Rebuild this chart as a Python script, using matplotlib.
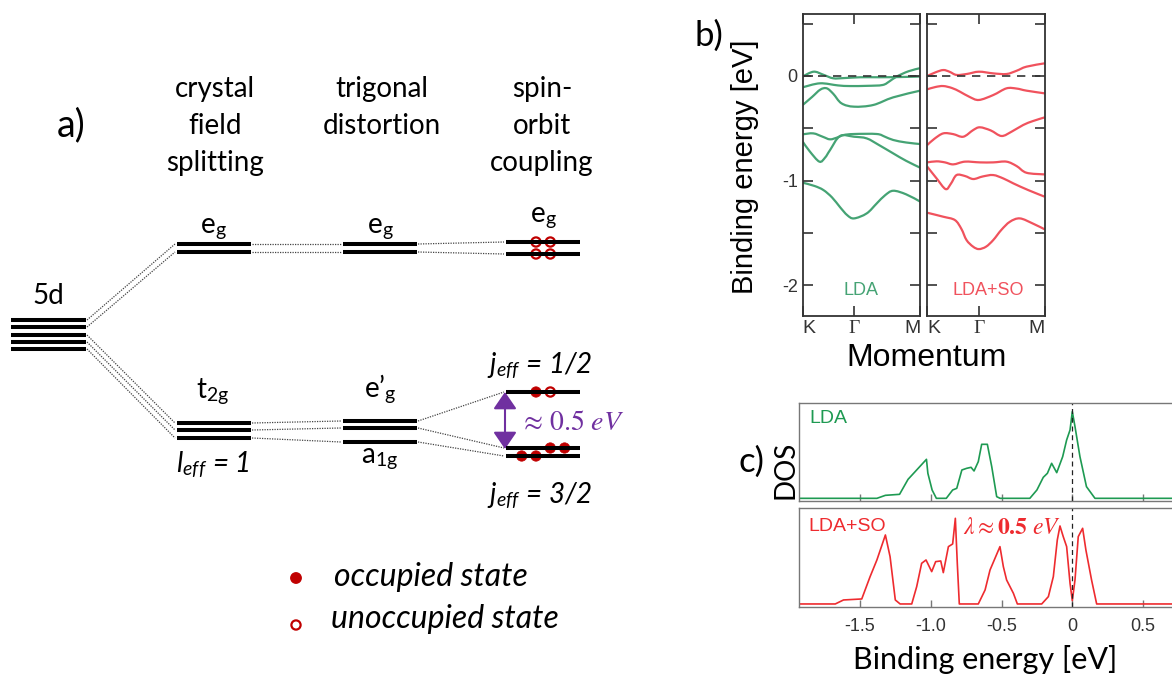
import numpy as np
import matplotlib
matplotlib.use('Agg')
import matplotlib.pyplot as plt
from matplotlib.patches import Circle, FancyArrowPatch, PathPatch
from matplotlib.path import Path

plt.rcParams['axes.unicode_minus'] = False
plt.rcParams['mathtext.fontset'] = 'stix'

# ---------------- data ----------------
# panel a: level energies (drawn in pixel space of the schematic)
levels_5d = [320, 327, 335, 342, 349]
levels_cf_eg = [244, 252]
levels_cf_t2g = [423, 430, 438]
levels_tr_eg = [244, 252]
levels_tr_low = [421, 428, 442]      # e'g, e'g, a1g
levels_so_eg = [242, 254]
levels_so_low = [392, 448, 456]      # j=1/2, j=3/2, j=3/2

# electrons on the spin-orbit levels: (level y, slot, filled)
electrons = [(242, 0, False), (242, 1, False), (254, 0, False), (254, 1, False),
             (392, 0, True), (392, 1, False),
             (448, 1, True), (448, 2, True),
             (456, -1, True), (456, 0, True)]

# panel b: bands, k from K (0) over Gamma to M (1)
k_gamma = 0.437
lda_bands = [
    ([0, 0.05, 0.105, 0.18, 0.26, 0.35, 0.49, 0.65, 0.83, 1.0],
     [-0.007, 0.025, 0.041, 0.01, -0.022, -0.02, -0.012, -0.012, -0.01, -0.005]),
    ([0, 0.147, 0.30, 0.40, 0.55, 0.68, 0.74, 0.80, 0.9, 1.0],
     [-0.108, -0.07, -0.09, -0.096, -0.094, -0.086, -0.05, -0.005, 0.045, 0.075]),
    ([0, 0.08, 0.15, 0.205, 0.26, 0.33, 0.437, 0.60, 0.77, 1.0],
     [-0.277, -0.20, -0.13, -0.118, -0.17, -0.261, -0.293, -0.277, -0.204, -0.14]),
    ([0, 0.09, 0.17, 0.233, 0.30, 0.347, 0.437, 0.63, 0.70, 0.77, 0.88, 1.0],
     [-0.557, -0.548, -0.58, -0.605, -0.585, -0.564, -0.554, -0.554, -0.58, -0.611, -0.635, -0.65]),
    ([0, 0.06, 0.142, 0.19, 0.233, 0.318, 0.437, 0.545, 0.65, 0.77, 0.88, 1.0],
     [-0.627, -0.72, -0.818, -0.78, -0.707, -0.573, -0.58, -0.596, -0.66, -0.739, -0.81, -0.876]),
    ([0, 0.1, 0.176, 0.25, 0.318, 0.38, 0.437, 0.545, 0.63, 0.70, 0.77, 0.88, 1.0],
     [-1.019, -1.05, -1.089, -1.16, -1.253, -1.33, -1.36, -1.312, -1.217, -1.14, -1.096, -1.13, -1.2]),
]
so_bands = [
    ([0, 0.07, 0.136, 0.19, 0.249, 0.34, 0.439, 0.561, 0.674, 0.76, 0.844, 1.0],
     [0.0, 0.035, 0.057, 0.04, 0.01, 0.02, 0.041, 0.025, 0.019, 0.05, 0.089, 0.121]),
    ([0, 0.07, 0.136, 0.21, 0.278, 0.36, 0.439, 0.561, 0.674, 0.76, 0.844, 1.0],
     [-0.127, -0.105, -0.096, -0.115, -0.15, -0.2, -0.229, -0.182, -0.118, -0.12, -0.14, -0.166]),
    ([0, 0.06, 0.136, 0.22, 0.306, 0.391, 0.448, 0.54, 0.632, 0.72, 0.816, 0.9, 1.0],
     [-0.659, -0.6, -0.548, -0.555, -0.58, -0.516, -0.49, -0.52, -0.573, -0.53, -0.468, -0.43, -0.395]),
    ([0, 0.079, 0.15, 0.221, 0.32, 0.448, 0.561, 0.674, 0.76, 0.844, 1.0],
     [-0.825, -0.815, -0.825, -0.844, -0.818, -0.825, -0.825, -0.818, -0.86, -0.924, -0.94]),
    ([0, 0.079, 0.156, 0.2, 0.249, 0.32, 0.391, 0.47, 0.561, 0.65, 0.731, 0.86, 1.0],
     [-0.866, -0.978, -1.08, -1.03, -0.946, -0.955, -0.984, -0.96, -0.946, -0.98, -1.025, -1.09, -1.153]),
    ([0, 0.136, 0.235, 0.29, 0.334, 0.39, 0.439, 0.50, 0.561, 0.63, 0.703, 0.788, 0.9, 1.0],
     [-1.306, -1.344, -1.376, -1.46, -1.567, -1.63, -1.653, -1.63, -1.567, -1.47, -1.392, -1.36, -1.41, -1.465]),
]

# panel c: density of states
lda_dos_e = [-1.93, -1.38, -1.32, -1.22, -1.16, -1.11, -1.03, -1.02, -0.99, -0.96, -0.89,
             -0.845, -0.816, -0.78, -0.746, -0.715, -0.694, -0.664, -0.64, -0.60, -0.569,
             -0.534, -0.51, -0.30, -0.25, -0.205, -0.176, -0.146, -0.11, -0.068, -0.04,
             -0.016, 0.0, 0.019, 0.054, 0.10, 0.16, 0.75]
lda_dos = [0, 0, 9, 12, 57, 80, 117, 75, 25, 0, 0,
           25, 30, 85, 90, 93, 82, 110, 162, 162, 95,
           5, 0, 0, 25, 63, 75, 105, 77, 125, 175,
           205, 260, 215, 125, 35, 0, 0]
so_dos_e = [-1.93, -1.674, -1.616, -1.487, -1.428, -1.38, -1.32, -1.287, -1.25, -1.216,
            -1.134, -1.099, -1.064, -1.033, -0.993, -0.965, -0.929, -0.911, -0.875, -0.845,
            -0.826, -0.812, -0.798, -0.664, -0.616, -0.581, -0.511, -0.487, -0.464, -0.416,
            -0.388, -0.216, -0.169, -0.134, -0.106, -0.087, -0.064, -0.04, -0.016, 0.0,
            0.019, 0.042, 0.073, 0.096, 0.136, 0.172, 0.75]
so_dos = [0, 0, 12, 15, 82, 132, 207, 142, 12, 0,
          0, 52, 122, 132, 97, 127, 129, 94, 172, 180,
          257, 120, 0, 0, 42, 102, 172, 112, 72, 32,
          0, 0, 22, 82, 192, 234, 202, 172, 62, 10,
          72, 202, 227, 162, 72, 0, 0]

dos_ticks = [-1.5, -1.0, -0.5, 0, 0.5]
dos_tick_labels = ['-1.5', '-1.0', '-0.5', '0', '0.5']

# ---------------- styles ----------------
SANS = 'Lato'
ARIAL = 'Liberation Sans'
green_b = '#45a374'
red_b = '#f0525d'
green_c = '#1e9a52'
red_c = '#ee2b2f'
dark_red = '#c00000'
purple = '#7030a0'

fig = plt.figure(figsize=(11.72, 6.79), dpi=100)

# pixel-space canvas for the level scheme and free labels
ax0 = fig.add_axes([0, 0, 1, 1])
ax0.set_xlim(0, 1172)
ax0.set_ylim(679, 0)
ax0.axis('off')

col_5d = (11, 86)
col_cf = (177, 251)
col_tr = (343, 417)
col_so = (506, 580)


def bars(col, levels):
    for y in levels:
        ax0.plot(col, [y, y], color='k', lw=2.9, solid_capstyle='butt')


def connect(c1, l1, c2, l2):
    for y1, y2 in zip(l1, l2):
        ax0.plot([c1[1] + 1, c2[0] - 2], [y1, y2], color='#444444', lw=0.9,
                 ls=(0, (1, 1)))


def smooth_path(x, y):
    # smooth curve through the read points (Catmull-Rom as cubic Bezier)
    p = np.column_stack([x, y])
    ext = np.vstack([p[0], p, p[-1]])
    verts = [p[0]]
    codes = [Path.MOVETO]
    for i in range(len(p) - 1):
        a, b, c, d = ext[i], ext[i + 1], ext[i + 2], ext[i + 3]
        verts += [b + (c - a) / 6, c - (d - b) / 6, c]
        codes += [Path.CURVE4] * 3
    return Path(verts, codes)


bars(col_5d, levels_5d)
bars(col_cf, levels_cf_eg + levels_cf_t2g)
bars(col_tr, levels_tr_eg + levels_tr_low)
bars(col_so, levels_so_eg + levels_so_low)

connect(col_5d, levels_5d[:2], col_cf, levels_cf_eg)
connect(col_5d, levels_5d[2:], col_cf, levels_cf_t2g)
connect(col_cf, levels_cf_eg, col_tr, levels_tr_eg)
connect(col_cf, levels_cf_t2g, col_tr, levels_tr_low)
connect(col_tr, levels_tr_eg, col_so, levels_so_eg)
connect(col_tr, levels_tr_low, col_so, levels_so_low)

for y, slot, filled in electrons:
    x = 536 + 14.3 * slot
    if filled:
        ax0.add_patch(Circle((x, y), 5.2, facecolor=dark_red, edgecolor=dark_red, lw=0.5))
    else:
        ax0.add_patch(Circle((x, y), 4.6, facecolor='white', edgecolor=dark_red, lw=1.6))

ax0.add_patch(FancyArrowPatch((505, 392), (505, 449),
                              arrowstyle='<|-|>,head_length=0.8,head_width=0.55',
                              mutation_scale=13, color=purple, lw=1.5,
                              shrinkA=0, shrinkB=0))
ax0.text(519, 422, r'$\approx\,0.5\ eV$', color=purple, fontsize=20, va='center', ha='left')

# legend
ax0.add_patch(Circle((296, 578), 5.2, facecolor=dark_red, edgecolor=dark_red))
ax0.add_patch(Circle((296, 625), 4.6, facecolor='white', edgecolor=dark_red, lw=1.6))
ax0.text(334, 577, 'occupied state', fontsize=23, style='italic', family=SANS, va='center')
ax0.text(331, 619, 'unoccupied state', fontsize=23, style='italic', family=SANS, va='center')

# headings
heads = [(215, ['crystal', 'field', 'splitting']),
         (382, ['trigonal', 'distortion']),
         (542, ['spin-', 'orbit', 'coupling'])]
for x, lines in heads:
    for i, s in enumerate(lines):
        ax0.text(x, 97 + 37 * i, s, fontsize=20, family=SANS, ha='center', va='baseline')

tkw = dict(fontsize=20, family=SANS, ha='center', va='baseline')
ax0.text(48, 304, '5d', **tkw)
ax0.text(213, 233, r'e$_\mathregular{g}$', **tkw)
ax0.text(380, 233, r'e$_\mathregular{g}$', **tkw)
ax0.text(543, 222, r'e$_\mathregular{g}$', **tkw)
ax0.text(213, 398, r't$_\mathregular{2g}$', **tkw)
ax0.text(380, 397, r'e’$_\mathregular{g}$', **tkw)
ax0.text(380, 463, r'a$_\mathregular{1g}$', **tkw)
ax0.text(213, 472, r'l$_\mathregular{eff}$ = 1', style='italic', **tkw)
ax0.text(540, 373, r'j$_\mathregular{eff}$ = 1/2', style='italic', **tkw)
ax0.text(540, 503, r'j$_\mathregular{eff}$ = 3/2', style='italic', **tkw)

ax0.text(71, 125, 'a)', fontsize=27, family=SANS, ha='center', va='center')
ax0.text(709, 36, 'b)', fontsize=25, family=SANS, ha='center', va='center')
ax0.text(752, 462, 'c)', fontsize=25, family=SANS, ha='center', va='center')

# ---------------- panel b ----------------
W, H = 1172.0, 679.0
ylo, yhi = -2.292, 0.592
for j, (bands, col, name) in enumerate([(lda_bands, green_b, 'LDA'), (so_bands, red_b, 'LDA+SO')]):
    x0 = [802.7, 927.3][j]
    ax = fig.add_axes([x0 / W, 1 - 316 / H, 117.5 / W, 302 / H])
    for k, e in bands:
        ax.add_patch(PathPatch(smooth_path(k, e), facecolor='none', edgecolor=col, lw=1.6))
    ax.axhline(0, color='#333333', lw=1.2, ls=(0, (5, 4)))
    ax.set_xlim(0, 1)
    ax.set_ylim(ylo, yhi)
    ax.set_yticks([0, -1, -2])
    ax.set_yticks([0.5, -0.5, -1.5], minor=True)
    ax.tick_params(axis='y', which='both', direction='in', length=7, width=1.2,
                   right=True, labelsize=13, colors='#333333', labelleft=(j == 0))
    ax.set_xticks([0, k_gamma, 1])
    ax.set_xticklabels(['K', 'Γ', 'M'])
    ax.tick_params(axis='x', direction='in', length=7, width=1.2, top=True,
                   labelsize=14, colors='#333333', pad=3)
    lbls = ax.get_xticklabels()
    lbls[0].set_ha('left')
    lbls[1].set_family('Liberation Serif')
    lbls[2].set_ha('right')
    for sp in ax.spines.values():
        sp.set_color('#333333')
        sp.set_linewidth(1.3)
    for t in ax.get_yticklabels() + lbls:
        if t.get_text() != 'Γ':
            t.set_family(ARIAL)
    ax.text(0.5 if j == 0 else 0.52, -2.05, name, color=col, fontsize=13, family=ARIAL,
            ha='center', va='center')

ax0.text(745, 167, 'Binding energy [eV]', fontsize=21, family=ARIAL, rotation=90,
         ha='center', va='center')
ax0.text(927, 358, 'Momentum', fontsize=23, family=ARIAL, ha='center', va='center')

# ---------------- panel c ----------------
xl, xr = -1.928, 0.75
cw = (xr - xl) * 141.6
ax1 = fig.add_axes([799.3 / W, 1 - 501 / H, cw / W, 97.7 / H])
ax2 = fig.add_axes([799.3 / W, 1 - 607.3 / H, cw / W, 99 / H])
ax1.plot(lda_dos_e, lda_dos, color=green_c, lw=1.2)
ax2.plot(so_dos_e, so_dos, color=red_c, lw=1.2)
ax1.set_ylim(-8, 285)
ax2.set_ylim(-10, 287)
for ax in (ax1, ax2):
    ax.set_xlim(xl, xr)
    ax.axvline(0, color='#222222', lw=0.9, ls=(0, (4, 3)))
    ax.set_yticks([])
    ax.set_xticks(dos_ticks)
    ax.tick_params(axis='x', direction='in', length=5, width=1, colors='#777777',
                   labelcolor='#333333', labelsize=13, pad=8)
    for sp in ax.spines.values():
        sp.set_color('#777777')
        sp.set_linewidth(1.0)
ax1.set_xticklabels([])
ax2.set_xticklabels(dos_tick_labels, family=ARIAL)
ax1.text(0.027, 0.84, 'LDA', transform=ax1.transAxes, color=green_c, fontsize=14,
         family=ARIAL, va='center')
ax2.text(0.025, 0.82, 'LDA+SO', transform=ax2.transAxes, color=red_c, fontsize=14,
         family=ARIAL, va='center')
ax2.text(-0.775, 230, r'$\lambda\approx\mathbf{0.5}\ eV$', color=red_c, fontsize=17,
         ha='left', va='center')

ax0.text(785, 470, 'DOS', fontsize=20, family=SANS, rotation=90, ha='center', va='center')
ax0.text(985, 660, 'Binding energy [eV]', fontsize=22, family=SANS, ha='center', va='center')

fig.savefig('out.png', dpi=100)
